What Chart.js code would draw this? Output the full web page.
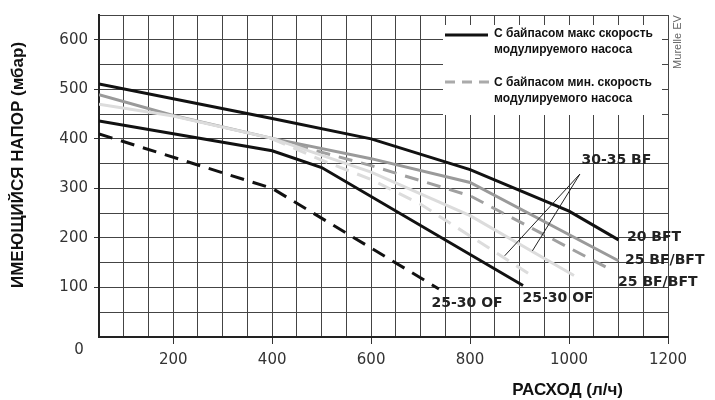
<!DOCTYPE html>
<html>
<head>
<meta charset="utf-8">
<script src="https://cdn.jsdelivr.net/npm/chart.js@4.4.1/dist/chart.umd.min.js"></script>
<style>
  html, body { margin: 0; padding: 0; background: #fff; }
</style>
</head>
<body>
<canvas id="pumpChart" width="715" height="400"></canvas>
<script>
// Pump head curves (flow l/h -> head mbar)
const bft20Flow = [50, 400, 600, 800, 1000, 1100];
const bft20Head = [511, 441, 400, 338, 254, 196];

const bf25MaxFlow = [50, 200, 400, 600, 800, 1100];
const bf25MaxHead = [489, 447, 401, 360, 312, 154];

const bf25MinFlow = [400, 600, 800, 1090];
const bf25MinHead = [400, 346, 285, 133];

const bf30MaxFlow = [50, 200, 400, 600, 800, 1010];
const bf30MaxHead = [470, 446, 401, 333, 245, 124];

const bf30MinFlow = [400, 500, 600, 700, 920];
const bf30MinHead = [400, 357, 318, 268, 127];

const of25MaxFlow = [50, 400, 500, 907];
const of25MaxHead = [436, 376, 342, 104];

const of25MinFlow = [50, 400, 737];
const of25MinHead = [410, 300, 97];

// tick labels
const flowTickLabels = [200, 400, 600, 800, 1000, 1200];
const headTickLabels = [100, 200, 300, 400, 500, 600];

const toPoints = (xs, ys) => xs.map((x, i) => ({ x: x, y: ys[i] }));

// curve labels, placed in data units
const curveLabels = [
  { text: '20 BFT', x: 1117, y: 201 },
  { text: '25 BF/BFT', x: 1113, y: 154 },
  { text: '25 BF/BFT', x: 1099, y: 111 },
  { text: '25-30 OF', x: 722, y: 67 },
  { text: '25-30 OF', x: 906, y: 79 },
  { text: '30-35 BF', x: 1025, y: 357 }
];
const pointerFrom = { x: 1022, y: 329 };
const pointerTo = [{ x: 870, y: 164 }, { x: 926, y: 174 }];

const chartText = {
  id: 'chartText',
  beforeDraw(chart) {
    const ctx = chart.ctx;
    ctx.save();
    ctx.fillStyle = '#fff';
    ctx.fillRect(0, 0, chart.width, chart.height);
    ctx.restore();
  },
  afterDatasetsDraw(chart) {
    const { ctx, scales: { x, y } } = chart;
    ctx.save();

    // curve names
    ctx.fillStyle = '#222';
    ctx.font = 'bold 14px "DejaVu Sans"';
    ctx.textAlign = 'left';
    ctx.textBaseline = 'middle';
    curveLabels.forEach(l => {
      ctx.fillText(l.text, x.getPixelForValue(l.x), y.getPixelForValue(l.y));
    });

    // pointers for 30-35 BF
    ctx.strokeStyle = '#222';
    ctx.lineWidth = 1;
    pointerTo.forEach(p => {
      ctx.beginPath();
      ctx.moveTo(x.getPixelForValue(pointerFrom.x), y.getPixelForValue(pointerFrom.y));
      ctx.lineTo(x.getPixelForValue(p.x), y.getPixelForValue(p.y));
      ctx.stroke();
    });

    // legend box
    ctx.fillStyle = '#fff';
    ctx.fillRect(443, 25, 219, 90);
    ctx.lineWidth = 3;
    ctx.strokeStyle = '#111';
    ctx.beginPath();
    ctx.moveTo(445, 35);
    ctx.lineTo(488, 35);
    ctx.stroke();
    ctx.strokeStyle = '#aaa';
    ctx.setLineDash([10, 7]);
    ctx.beginPath();
    ctx.moveTo(445, 82);
    ctx.lineTo(490, 82);
    ctx.stroke();
    ctx.setLineDash([]);
    ctx.fillStyle = '#111';
    ctx.font = 'bold 12px "Liberation Sans"';
    ctx.fillText('С байпасом макс скорость', 494, 34);
    ctx.fillText('модулируемого насоса', 494, 50);
    ctx.fillText('С байпасом мин. скорость', 494, 83);
    ctx.fillText('модулируемого насоса', 494, 99);

    // zero label at the corner
    ctx.fillStyle = '#333';
    ctx.font = '15px "DejaVu Sans"';
    ctx.textAlign = 'center';
    ctx.fillText('0', 79, 350);

    // axis titles
    ctx.fillStyle = '#111';
    ctx.font = 'bold 17px "Liberation Sans"';
    ctx.textAlign = 'right';
    ctx.fillText('РАСХОД (л/ч)', 623, 390);

    ctx.save();
    ctx.translate(18, 165);
    ctx.rotate(-Math.PI / 2);
    ctx.textAlign = 'center';
    ctx.fillText('ИМЕЮЩИЙСЯ НАПОР (мбар)', 0, 0);
    ctx.restore();

    ctx.save();
    ctx.translate(678, 42);
    ctx.rotate(-Math.PI / 2);
    ctx.textAlign = 'center';
    ctx.fillStyle = '#666';
    ctx.font = '11px "Liberation Sans"';
    ctx.fillText('Murelle EV', 0, 0);
    ctx.restore();

    ctx.restore();
  }
};

const curve = (xs, ys, color, dash) => ({
  data: toPoints(xs, ys),
  borderColor: color,
  borderWidth: 3,
  borderDash: dash || [],
  pointRadius: 0,
  showLine: true,
  tension: 0,
  borderCapStyle: 'butt'
});

const ctxPump = document.getElementById('pumpChart').getContext('2d');
new Chart(ctxPump, {
  type: 'scatter',
  data: {
    datasets: [
      curve(bf30MinFlow, bf30MinHead, '#dcdcdc', [14, 9]),
      curve(bf30MaxFlow, bf30MaxHead, '#dcdcdc'),
      curve(bf25MinFlow, bf25MinHead, '#a0a0a0', [14, 9]),
      curve(bf25MaxFlow, bf25MaxHead, '#9a9a9a'),
      curve(of25MinFlow, of25MinHead, '#111', [14, 9]),
      curve(of25MaxFlow, of25MaxHead, '#111'),
      curve(bft20Flow, bft20Head, '#111')
    ]
  },
  options: {
    responsive: false,
    animation: false,
    layout: { padding: { left: 0, right: 47, top: 12, bottom: 0 } },
    plugins: { legend: { display: false }, tooltip: { enabled: false } },
    scales: {
      x: {
        type: 'linear',
        min: 50,
        max: 1200,
        afterFit: s => { s.height = 63; },
        border: { color: '#222', width: 2 },
        grid: {
          color: '#444',
          lineWidth: 1,
          tickLength: 7,
          tickColor: c => (c.tick && flowTickLabels.includes(c.tick.value)) ? '#333' : 'rgba(0,0,0,0)'
        },
        ticks: {
          stepSize: 50,
          autoSkip: false,
          maxRotation: 0,
          padding: 7,
          color: '#333',
          font: { family: 'DejaVu Sans', size: 15 },
          callback: v => flowTickLabels.includes(v) ? String(v) : ''
        }
      },
      y: {
        min: 0,
        max: 650,
        afterFit: s => { s.width = 99; },
        border: { color: '#222', width: 2 },
        grid: {
          color: '#444',
          lineWidth: 1,
          tickLength: 5,
          tickColor: c => (c.tick && headTickLabels.includes(c.tick.value)) ? '#333' : 'rgba(0,0,0,0)'
        },
        ticks: {
          stepSize: 50,
          autoSkip: false,
          padding: 6,
          color: '#333',
          font: { family: 'DejaVu Sans', size: 15 },
          callback: v => headTickLabels.includes(v) ? String(v) : ''
        }
      }
    }
  },
  plugins: [chartText]
});
</script>
</body>
</html>
